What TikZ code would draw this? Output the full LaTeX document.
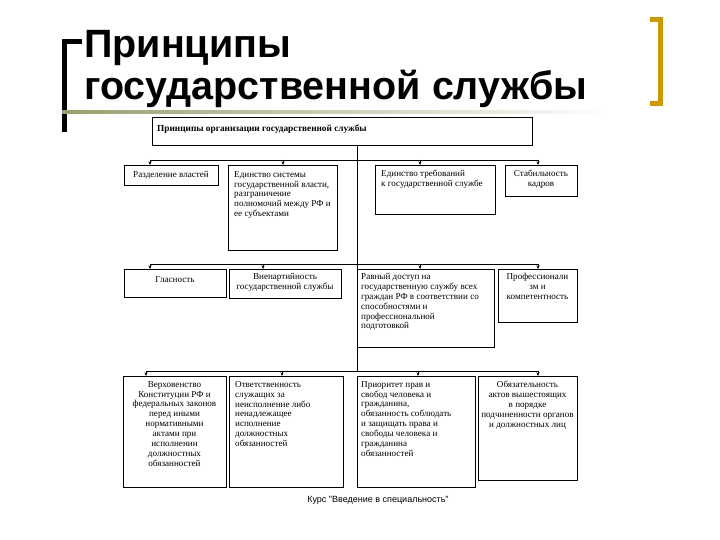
\documentclass[tikz,border=0pt]{standalone}
\usepackage{fontspec}
\setmainfont{Liberation Serif}
\newfontfamily\headfont{Liberation Sans}
\usetikzlibrary{arrows.meta,positioning,calc}
\definecolor{bracketgold}{RGB}{204,153,0}
\definecolor{ruleolive}{RGB}{150,160,110}

\tikzset{
  pbox/.style={draw, line width=0.8pt, anchor=north west, inner sep=0pt, outer sep=0pt},
  ptext/.style={font=\fontsize{9.1}{9.9}\selectfont, inner sep=0pt},
  ctext/.style={ptext, anchor=north, align=center},
  ltext/.style={ptext, anchor=north west, align=left},
  arr/.style={-{Stealth[length=3.5pt,width=3pt]}, line width=0.7pt},
  bus/.style={line width=0.8pt},
}

\begin{document}
\begin{tikzpicture}[x=1pt,y=-1pt]
  \useasboundingbox (0,0) rectangle (720,540);
  % title and brackets
  \draw[line width=5pt] (82,42) -- (64.5,42) -- (64.5,132);
  \draw[bracketgold, line width=5pt] (650,20) -- (660,20) -- (660,104) -- (650,104);
  \shade[left color=ruleolive, right color=white] (62,111) rectangle (610,114);
  \node[font=\headfont\bfseries\fontsize{39.5}{42}\selectfont, anchor=base west, inner sep=0pt] (title1) at (84,58) {Принципы};
  \node[font=\headfont\bfseries\fontsize{39.5}{42}\selectfont, anchor=base west, inner sep=0pt] (title2) at (84,100) {государственной службы};

  % top box
  \node[pbox, line width=1pt, minimum width=380pt, minimum height=28pt] (top) at (152,118) {};
  \node[ptext, font=\bfseries\fontsize{9.3}{9.9}\selectfont, anchor=west] (toptext) at (157,129) {Принципы организации государственной службы};

  % row 1
  \node[pbox, minimum width=94pt, minimum height=20pt] (b11) at (124,165) {};
  \node[pbox, minimum width=109pt, minimum height=85pt] (b12) at (228,165) {};
  \node[pbox, minimum width=120pt, minimum height=49pt] (b13) at (375,165) {};
  \node[pbox, minimum width=72pt, minimum height=31pt] (b14) at (505,165) {};
  \node[ctext] (t11) at ([yshift=-6pt]b11.north) {Разделение властей};
  \node[ltext] (t12) at ([shift={(6pt,-6pt)}]b12.north west) {Единство системы\\государственной власти,\\разграничение\\полномочий между РФ и\\ее субъектами};
  \node[ltext] (t13) at ([shift={(6pt,-5pt)}]b13.north west) {Единство требований\\к государственной службе};
  \node[ctext] (t14) at ([yshift=-5pt]b14.north) {Стабильность\\кадров};

  % row 2
  \node[pbox, minimum width=102pt, minimum height=28pt] (b21) at (124,269) {};
  \node[pbox, minimum width=112pt, minimum height=29pt] (b22) at (229,269) {};
  \node[pbox, minimum width=137pt, minimum height=78pt] (b23) at (357,269) {};
  \node[pbox, minimum width=79pt, minimum height=53pt] (b24) at (498,269) {};
  \node[ctext] (t21) at ([yshift=-7pt]b21.north) {Гласность};
  \node[ctext] (t22) at ([yshift=-4pt]b22.north) {Внепартийность\\государственной службы};
  \node[ltext] (t23) at ([shift={(4pt,-4pt)}]b23.north west) {Равный доступ на\\государственную службу всех\\граждан РФ в соответствии со\\способностями и\\профессиональной\\подготовкой};
  \node[ctext] (t24) at ([yshift=-4pt]b24.north) {Профессионали\\зм и\\компетентность};

  % row 3
  \node[pbox, minimum width=103pt, minimum height=111pt] (b31) at (123,376) {};
  \node[pbox, minimum width=114pt, minimum height=111pt] (b32) at (229,376) {};
  \node[pbox, minimum width=118pt, minimum height=111pt] (b33) at (357,376) {};
  \node[pbox, minimum width=99pt, minimum height=104pt] (b34) at (478,376) {};
  \node[ctext] (t31) at ([yshift=-5pt]b31.north) {Верховенство\\Конституции РФ и\\федеральных законов\\перед иными\\нормативными\\актами при\\исполнении\\должностных\\обязанностей};
  \node[ltext] (t32) at ([shift={(6pt,-5pt)}]b32.north west) {Ответственность\\служащих за\\неисполнение либо\\ненадлежащее\\исполнение\\должностных\\обязанностей};
  \node[ltext] (t33) at ([shift={(4pt,-5pt)}]b33.north west) {Приоритет прав и\\свобод человека и\\гражданина,\\обязанность соблюдать\\и защищать права и\\свободы человека и\\гражданина\\обязанностей};
  \node[ctext] (t34) at ([yshift=-5pt]b34.north) {Обязательность\\актов вышестоящих\\в порядке\\подчиненности органов\\и должностных лиц};

  % buses and drops
  \coordinate (sp) at (357,0);
  \coordinate (d11) at (150,160); \coordinate (d12) at (283,160);
  \coordinate (d13) at (420,160); \coordinate (d14) at (538,160);
  \coordinate (d21) at (150,264); \coordinate (d22) at (263,264);
  \coordinate (d23) at (420,264); \coordinate (d24) at (538,264);
  \coordinate (d31) at (146,371); \coordinate (d32) at (282,371);
  \coordinate (d33) at (418,371); \coordinate (d34) at (538,371);
  \draw[bus] (top.south -| sp) -- (d31 -| sp);
  \draw[bus] (d11) -- (d14);
  \draw[bus] (d21) -- (d24);
  \draw[bus] (d31) -- (d34);
  \foreach \r in {1,2,3}
    \foreach \c in {1,2,3,4}
      \draw[arr] (d\r\c) -- (d\r\c |- b\r\c.north);

  % footer
  \node[font=\headfont\fontsize{9}{10}\selectfont] (foot) at (378,500) {Курс "Введение в специальность"};
\end{tikzpicture}
\end{document}
